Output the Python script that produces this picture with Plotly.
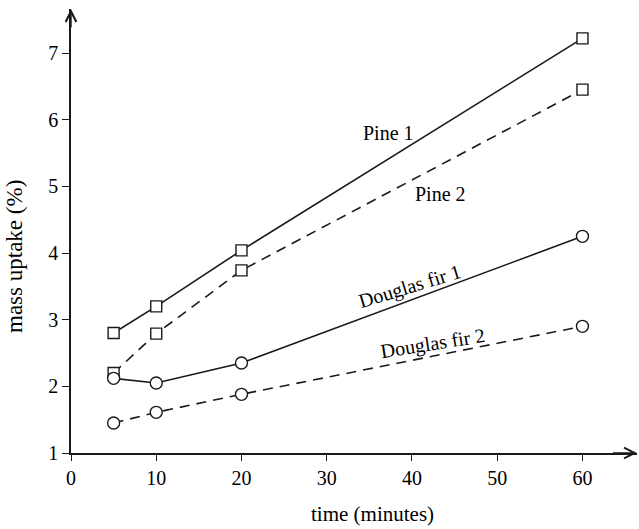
import plotly.graph_objects as go

time_min = [5, 10, 20, 60]
pine1 = [2.80, 3.20, 4.04, 7.22]
pine2 = [2.20, 2.79, 3.74, 6.45]
dfir1 = [2.12, 2.05, 2.35, 4.25]
dfir2 = [1.45, 1.61, 1.88, 2.90]

x_ticks = [0, 10, 20, 30, 40, 50, 60]
y_ticks = [1, 2, 3, 4, 5, 6, 7]

series_names = ["Pine 1", "Pine 2", "Douglas fir 1", "Douglas fir 2"]

FONT = "Liberation Serif, Times New Roman, serif"
INK = "#1a1a1a"
X_MAX = 66.4
Y_MAX = 7.66

fig = go.Figure()

styles = [
    ("solid", "square", 11),
    ("10px,7px", "square", 11),
    ("solid", "circle", 12),
    ("10px,7px", "circle", 12),
]
for name, vals, (dash, sym, size) in zip(series_names, [pine1, pine2, dfir1, dfir2], styles):
    fig.add_trace(go.Scatter(
        x=time_min, y=vals, name=name, mode="lines+markers",
        line=dict(color=INK, width=1.6, dash=dash),
        marker=dict(symbol=sym, size=size, color="white",
                    line=dict(color=INK, width=1.4)),
        showlegend=False,
    ))

fig.update_layout(
    width=639, height=529,
    margin=dict(l=71, r=2, t=9, b=76),
    paper_bgcolor="white", plot_bgcolor="white",
    font=dict(family=FONT, size=20, color="black"),
    xaxis=dict(range=[0, X_MAX], tickvals=x_ticks, showgrid=False, zeroline=False,
               showline=True, linecolor=INK, linewidth=1.6,
               ticks="outside", ticklen=6, tickwidth=1.4, tickcolor=INK,
               tickfont=dict(family=FONT, size=20, color="black")),
    yaxis=dict(range=[1, Y_MAX], tickvals=y_ticks, showgrid=False, zeroline=False,
               showline=True, linecolor=INK, linewidth=1.6,
               ticks="outside", ticklen=7, tickwidth=1.4, tickcolor=INK,
               tickfont=dict(family=FONT, size=20, color="black")),
)

# axis arrowheads
fig.add_annotation(x=X_MAX, y=1, ax=X_MAX - 3, ay=1, xref="x", yref="y",
                   axref="x", ayref="y", text="", showarrow=True,
                   arrowhead=5, arrowsize=1.5, arrowwidth=1.4, arrowcolor=INK, standoff=0)
fig.add_annotation(x=0, y=Y_MAX, ax=0, ay=Y_MAX - 0.3, xref="x", yref="y",
                   axref="x", ayref="y", text="", showarrow=True,
                   arrowhead=5, arrowsize=1.5, arrowwidth=1.4, arrowcolor=INK, standoff=0)

# series labels
label_pos = [(37.2, 5.80, 0), (43.3, 4.89, 0), (39.8, 3.50, -17), (42.5, 2.65, -9)]
for txt, (lx, ly, ang) in zip(series_names, label_pos):
    fig.add_annotation(x=lx, y=ly, xref="x", yref="y", text=txt, showarrow=False,
                       textangle=ang, font=dict(family=FONT, size=20, color="black"))

# axis titles
fig.add_annotation(xref="x", x=35.4, yref="paper", y=-(514 - 453) / 444,
                   yanchor="middle", xanchor="center", text="time (minutes)",
                   showarrow=False, font=dict(family=FONT, size=21, color="black"))
fig.add_annotation(xref="paper", yref="paper", x=-(71 - 14) / 566, y=(453 - 257) / 444,
                   text="mass uptake (%)", textangle=-90, showarrow=False,
                   xanchor="center", yanchor="middle",
                   font=dict(family=FONT, size=23, color="black"))

fig.write_html("out.html", config={"displayModeBar": False},
               post_script="document.body.style.margin='0px';")
